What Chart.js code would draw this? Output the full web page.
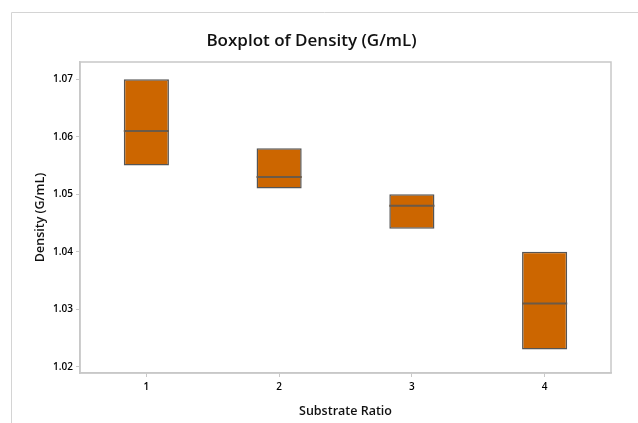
<!DOCTYPE html>
<html>
<head>
<meta charset="utf-8">
<script src="https://cdn.jsdelivr.net/npm/chart.js@4/dist/chart.umd.min.js"></script>
<style>
  html, body { margin: 0; padding: 0; background: #ffffff; }
  #wrap { width: 638px; height: 423px; position: relative; }
</style>
</head>
<body>
<div id="wrap"><canvas id="c" width="638" height="423"></canvas></div>
<script>
const categories = ['1', '2', '3', '4'];
const q1Values = [1.055, 1.051, 1.044, 1.023];
const medianValues = [1.061, 1.053, 1.048, 1.031];
const q3Values = [1.070, 1.058, 1.050, 1.040];
const yTickValues = [1.02, 1.03, 1.04, 1.05, 1.06, 1.07];

const FONT = "'Open Sans', 'Noto Sans', sans-serif";
const BOX_FILL = '#CC6600';
const BOX_EDGE = '#555555';
const MEDIAN = '#6b5a48';
const FRAME = '#c8c8c8';

const framePlugin = {
  id: 'framePlugin',
  beforeDraw(chart) {
    const ctx = chart.ctx;
    ctx.save();
    ctx.strokeStyle = '#d4d4d4';
    ctx.lineWidth = 1;
    ctx.beginPath();
    ctx.moveTo(11.5, chart.height);
    ctx.lineTo(11.5, 12.5);
    ctx.lineTo(chart.width, 12.5);
    ctx.stroke();
    ctx.restore();
  },
  afterDatasetsDraw(chart) {
    const a = chart.chartArea;
    const ctx = chart.ctx;
    ctx.save();
    ctx.strokeStyle = FRAME;
    ctx.lineWidth = 1.5;
    ctx.strokeRect(a.left, a.top, a.right - a.left, a.bottom - a.top);
    ctx.restore();
  }
};

function halfBoxWidth(ctx) {
  const meta = ctx.chart.getDatasetMeta(0);
  const el = meta && meta.data ? meta.data[ctx.dataIndex] : null;
  return el && el.width ? el.width / 2 : 22.5;
}

new Chart(document.getElementById('c'), {
  type: 'bar',
  data: {
    labels: categories,
    datasets: [
      {
        type: 'bar',
        label: 'Box',
        data: q1Values.map((v, i) => [v, q3Values[i]]),
        backgroundColor: BOX_FILL,
        borderColor: BOX_EDGE,
        borderWidth: 1.5,
        borderSkipped: false,
        order: 2
      },
      {
        type: 'line',
        label: 'Median',
        data: medianValues,
        showLine: false,
        pointStyle: 'line',
        pointRadius: halfBoxWidth,
        pointHoverRadius: halfBoxWidth,
        borderColor: MEDIAN,
        pointBorderColor: MEDIAN,
        pointBorderWidth: 2,
        order: 1
      }
    ]
  },
  options: {
    responsive: false,
    animation: false,
    devicePixelRatio: 1,
    barPercentage: 0.34,
    categoryPercentage: 1,
    layout: { padding: { left: 12, right: 27, top: 0, bottom: 0 } },
    plugins: {
      legend: { display: false },
      tooltip: { enabled: false },
      title: {
        display: true,
        text: 'Boxplot of Density (G/mL)',
        color: '#111111',
        font: { family: FONT, size: 17, weight: '600', lineHeight: 1.2 },
        padding: { top: 31, bottom: 10.6 }
      }
    },
    scales: {
      x: {
        type: 'category',
        offset: true,
        afterFit(scale) { scale.height = 50; },
        grid: { display: true, drawOnChartArea: false, drawTicks: true, tickLength: 4, offset: false, color: FRAME },
        border: { display: true, color: FRAME, width: 1.5 },
        ticks: { color: '#000000', padding: 4, font: { family: FONT, size: 10, weight: '600' } },
        title: {
          display: true,
          text: 'Substrate Ratio',
          color: '#111111',
          font: { family: FONT, size: 12.5, weight: '600' },
          padding: { top: 0, bottom: 4 }
        }
      },
      y: {
        type: 'linear',
        min: 1.0189,
        max: 1.0730,
        afterFit(scale) { scale.width = 68; },
        afterBuildTicks(scale) { scale.ticks = yTickValues.map(v => ({ value: v })); },
        grid: { display: true, drawOnChartArea: false, drawTicks: true, tickLength: 4, color: FRAME },
        border: { display: true, color: FRAME, width: 1.5 },
        ticks: {
          color: '#000000',
          padding: 3,
          font: { family: FONT, size: 10, weight: '600' },
          callback: (v) => Number(v).toFixed(2)
        },
        title: {
          display: true,
          text: 'Density (G/mL)',
          color: '#111111',
          font: { family: FONT, size: 12.5, weight: '600' },
          padding: { top: 21, bottom: 0 }
        }
      }
    }
  },
  plugins: [framePlugin]
});
</script>
</body>
</html>
